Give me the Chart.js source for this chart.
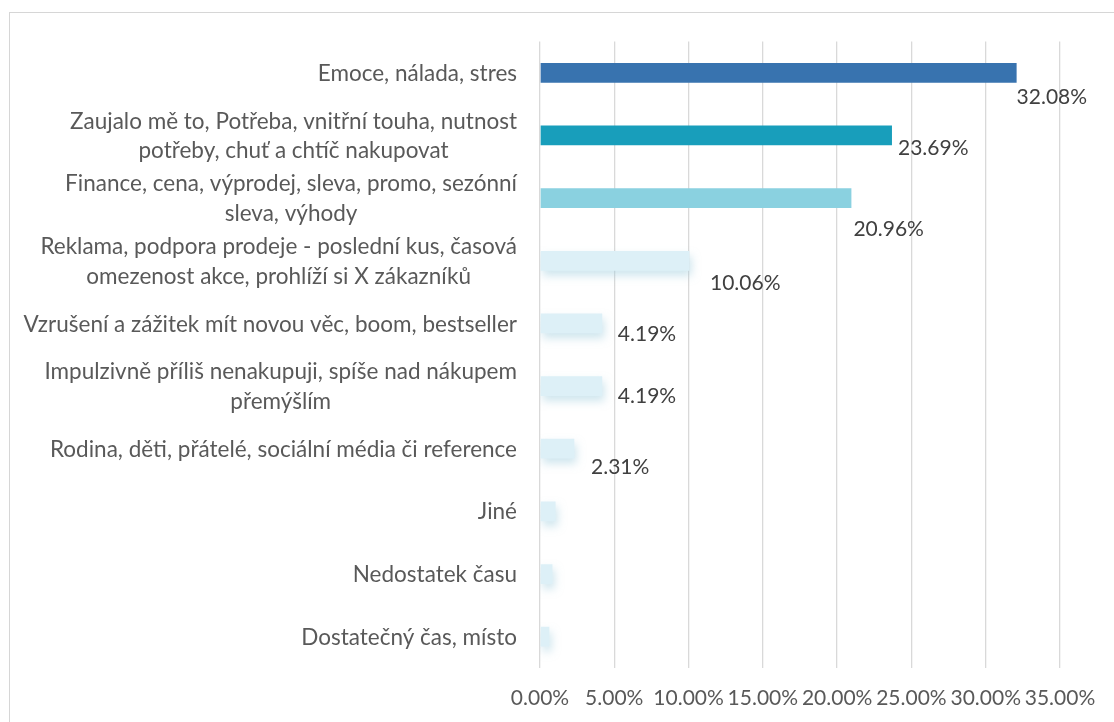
<!DOCTYPE html>
<html lang="cs">
<head>
<meta charset="utf-8">
<title>Důvody impulzivního nakupování</title>
<script src="https://cdn.jsdelivr.net/npm/chart.js@4/dist/chart.umd.min.js"></script>
<style>
  html, body { margin: 0; padding: 0; background: #ffffff; overflow: hidden; }
  #frame {
    position: absolute; left: 9px; top: 12px; width: 1200px; height: 800px;
    border: 1px solid #d6d6d6; box-sizing: border-box;
  }
  #wrap { position: absolute; left: 0; top: 0; width: 1114px; height: 722px; }
</style>
</head>
<body>
<div id="frame"></div>
<div id="wrap"><canvas id="chart" width="1114" height="722"></canvas></div>
<script>
// Categories (multi-line ones as arrays of lines)
const categories = [
  'Emoce, nálada, stres',
  ['Zaujalo mě to, Potřeba, vnitřní touha, nutnost', 'potřeby, chuť a chtíč nakupovat'],
  ['Finance, cena, výprodej, sleva, promo, sezónní', 'sleva, výhody'],
  ['Reklama, podpora prodeje - poslední kus, časová', 'omezenost akce, prohlíží si X zákazníků'],
  'Vzrušení a zážitek mít novou věc, boom, bestseller',
  ['Impulzivně příliš nenakupuji, spíše nad nákupem', 'přemýšlím'],
  'Rodina, děti, přátelé, sociální média či reference',
  'Jiné',
  'Nedostatek času',
  'Dostatečný čas, místo'
];

// Share of answers in percent
const shares = [32.08, 23.69, 20.96, 10.06, 4.19, 4.19, 2.31, 1.05, 0.84, 0.63];

// Value axis ticks (percent)
const axisTicks = [0, 5, 10, 15, 20, 25, 30, 35];

// Number of leading categories drawn in strong colours / with value labels
const strongCount = 3;
const labelledCount = 7;

const strongColors = ['#3873AF', '#189EBB', '#8AD1E0'];
const softColor = '#DDF0F7';

const TEXT_SIZE = 22.5;
const NUM_SIZE = 21;
const fmtPct = v => v.toFixed(2) + '%';

// Soft glow under the lighter bars
const softShadow = {
  id: 'softShadow',
  beforeDatasetDraw(chart, args) {
    if (args.index !== 1) return;
    const ctx = chart.ctx;
    ctx.save();
    ctx.shadowColor = 'rgba(160, 205, 222, 0.5)';
    ctx.shadowBlur = 8;
    ctx.shadowOffsetX = 2;
    ctx.shadowOffsetY = 5;
  },
  afterDatasetDraw(chart, args) {
    if (args.index !== 1) return;
    chart.ctx.restore();
  }
};

// Category names to the left of the plot, lines centred within each block
const categoryLabels = {
  id: 'categoryLabels',
  afterDraw(chart, args, opts) {
    const ctx = chart.ctx;
    const y = chart.scales.y;
    const right = chart.chartArea.left - opts.gap;
    ctx.save();
    ctx.font = TEXT_SIZE + 'px Lato';
    ctx.fillStyle = opts.color;
    ctx.textAlign = 'center';
    ctx.textBaseline = 'alphabetic';
    const capH = 0.72 * TEXT_SIZE;
    categories.forEach((cat, i) => {
      const lines = Array.isArray(cat) ? cat : [cat];
      const w = Math.max(...lines.map(l => ctx.measureText(l).width));
      const cx = right - w / 2;
      const cy = y.getPixelForValue(i);
      lines.forEach((line, k) => {
        const ly = cy + (k - (lines.length - 1) / 2) * opts.lineHeight + capH / 2;
        ctx.fillText(line, cx, ly);
      });
    });
    ctx.restore();
  }
};

// Value labels next to the bar ends
const valueLabels = {
  id: 'valueLabels',
  afterDatasetsDraw(chart, args, opts) {
    const ctx = chart.ctx;
    ctx.save();
    ctx.font = NUM_SIZE + 'px Lato';
    ctx.fillStyle = opts.color;
    ctx.textAlign = 'left';
    ctx.textBaseline = 'alphabetic';
    const capH = 0.72 * NUM_SIZE;
    for (let i = 0; i < labelledCount; i++) {
      const ds = i < strongCount ? 0 : 1;
      const bar = chart.getDatasetMeta(ds).data[i];
      const [dx, dy] = opts.offsets[i];
      ctx.fillText(fmtPct(shares[i]), bar.x + dx, bar.y + dy + capH / 2);
    }
    ctx.restore();
  }
};

new Chart(document.getElementById('chart'), {
  type: 'bar',
  data: {
    labels: categories,
    datasets: [
      {
        data: shares.map((v, i) => (i < strongCount ? v : null)),
        backgroundColor: strongColors.concat(Array(shares.length - strongCount).fill(softColor)),
        grouped: false,
        categoryPercentage: 1,
        barPercentage: 0.315
      },
      {
        data: shares.map((v, i) => (i < strongCount ? null : v)),
        backgroundColor: softColor,
        grouped: false,
        categoryPercentage: 1,
        barPercentage: 0.315
      }
    ]
  },
  options: {
    indexAxis: 'y',
    responsive: false,
    animation: false,
    events: [],
    layout: { padding: { left: 540, right: 54, top: 41.5, bottom: 0 } },
    plugins: {
      legend: { display: false },
      tooltip: { enabled: false },
      categoryLabels: { gap: 23, lineHeight: 29.6, color: '#595959' },
      valueLabels: {
        color: '#404040',
        offsets: [[0, 23.5], [6, 12.2], [2, 30.3], [20.5, 21.5], [15.6, 9.7], [15.6, 9.8], [16.7, 17.4]]
      }
    },
    scales: {
      y: { display: false },
      x: {
        min: axisTicks[0],
        max: axisTicks[axisTicks.length - 1],
        afterBuildTicks(scale) { scale.ticks = axisTicks.map(v => ({ value: v })); },
        afterFit(scale) { scale.height = 54; },
        grid: { color: '#D9D9D9', lineWidth: 1.3, drawTicks: false },
        border: { display: false },
        ticks: {
          autoSkip: false,
          maxRotation: 0,
          padding: 18,
          color: '#595959',
          font: { family: 'Lato', size: NUM_SIZE },
          callback: v => fmtPct(v)
        }
      }
    }
  },
  plugins: [softShadow, categoryLabels, valueLabels]
});
</script>
</body>
</html>
